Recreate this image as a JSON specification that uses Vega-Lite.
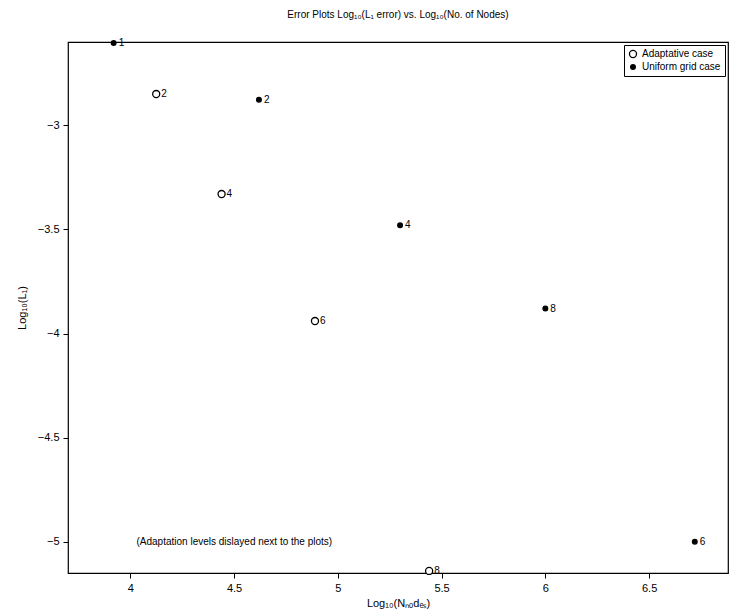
{
  "$schema": "https://vega.github.io/schema/vega-lite/v6.json",
  "width": 660,
  "height": 531,
  "autosize": {"type": "none"},
  "padding": {"left": 68, "top": 42, "right": 2, "bottom": 43},
  "background": "white",
  "config": {
    "font": "Liberation Sans",
    "view": {"stroke": "black", "strokeWidth": 1.2},
    "axis": {"grid": false, "domain": false, "tickColor": "black", "labelColor": "black", "titleColor": "black", "labelFont": "Liberation Sans", "titleFont": "Liberation Sans", "labelFontSize": 11, "titleFontSize": 11, "titleFontWeight": "normal"},
    "legend": {"orient": "top-right", "offset": 3, "fillColor": "white", "strokeColor": "black", "padding": 4, "labelFontSize": 10, "labelFont": "Liberation Sans", "labelColor": "black", "rowPadding": 1, "symbolStrokeWidth": 1.3}
  },
  "title": {"text": "Error Plots Log₁₀(L₁ error) vs. Log₁₀(No. of Nodes)", "fontSize": 10, "fontWeight": "normal", "font": "Liberation Sans", "offset": 18, "color": "black"},
  "datasets": {
    "pts": [
      {"lx": 4.125, "ly": -2.85, "series": "Adaptative case", "level": "2"},
      {"lx": 4.44, "ly": -3.33, "series": "Adaptative case", "level": "4"},
      {"lx": 4.89, "ly": -3.94, "series": "Adaptative case", "level": "6"},
      {"lx": 5.44, "ly": -5.14, "series": "Adaptative case", "level": "8"},
      {"lx": 3.92, "ly": -2.605, "series": "Uniform grid case", "level": "1"},
      {"lx": 4.62, "ly": -2.877, "series": "Uniform grid case", "level": "2"},
      {"lx": 5.3, "ly": -3.48, "series": "Uniform grid case", "level": "4"},
      {"lx": 6.0, "ly": -3.88, "series": "Uniform grid case", "level": "8"},
      {"lx": 6.72, "ly": -5.0, "series": "Uniform grid case", "level": "6"}
    ],
    "note": [
      {"lx": 4.03, "ly": -5.0, "txt": "(Adaptation levels dislayed next to the plots)"}
    ]
  },
  "layer": [
    {
      "data": {"name": "pts"},
      "mark": {"type": "point", "filled": false, "strokeWidth": 1.3, "opacity": 1},
      "encoding": {
        "x": {"field": "lx", "type": "quantitative", "scale": {"domain": [3.7, 6.88], "nice": false, "zero": false},
              "axis": {"values": [4, 4.5, 5, 5.5, 6, 6.5], "format": "~g", "tickSize": 5, "labelPadding": 4, "title": "Log₁₀(Nₙₒdₑₛ)", "titlePadding": 4}},
        "y": {"field": "ly", "type": "quantitative", "scale": {"domain": [-5.15, -2.6], "nice": false, "zero": false},
              "axis": {"values": [-5, -4.5, -4, -3.5, -3], "format": "~g", "tickSize": 5, "labelPadding": 4, "title": "Log₁₀(L₁)", "titlePadding": 10}},
        "shape": {"field": "series", "type": "nominal", "scale": {"domain": ["Adaptative case", "Uniform grid case"], "range": ["circle", "circle"]}, "legend": {"title": null}},
        "fill": {"field": "series", "type": "nominal", "scale": {"domain": ["Adaptative case", "Uniform grid case"], "range": ["#ffffff", "#000000"]}, "legend": {"title": null}},
        "stroke": {"field": "series", "type": "nominal", "scale": {"domain": ["Adaptative case", "Uniform grid case"], "range": ["#000000", "#000000"]}, "legend": {"title": null}},
        "size": {"field": "series", "type": "nominal", "scale": {"domain": ["Adaptative case", "Uniform grid case"], "range": [50, 22]}, "legend": {"title": null}}
      }
    },
    {
      "data": {"name": "pts"},
      "mark": {"type": "text", "align": "left", "baseline": "middle", "dx": 5, "fontSize": 10, "font": "Liberation Sans", "color": "black"},
      "encoding": {
        "x": {"field": "lx", "type": "quantitative"},
        "y": {"field": "ly", "type": "quantitative"},
        "text": {"field": "level"}
      }
    },
    {
      "data": {"name": "note"},
      "mark": {"type": "text", "align": "left", "baseline": "middle", "fontSize": 10, "font": "Liberation Sans", "color": "black"},
      "encoding": {
        "x": {"field": "lx", "type": "quantitative"},
        "y": {"field": "ly", "type": "quantitative"},
        "text": {"field": "txt"}
      }
    }
  ]
}
